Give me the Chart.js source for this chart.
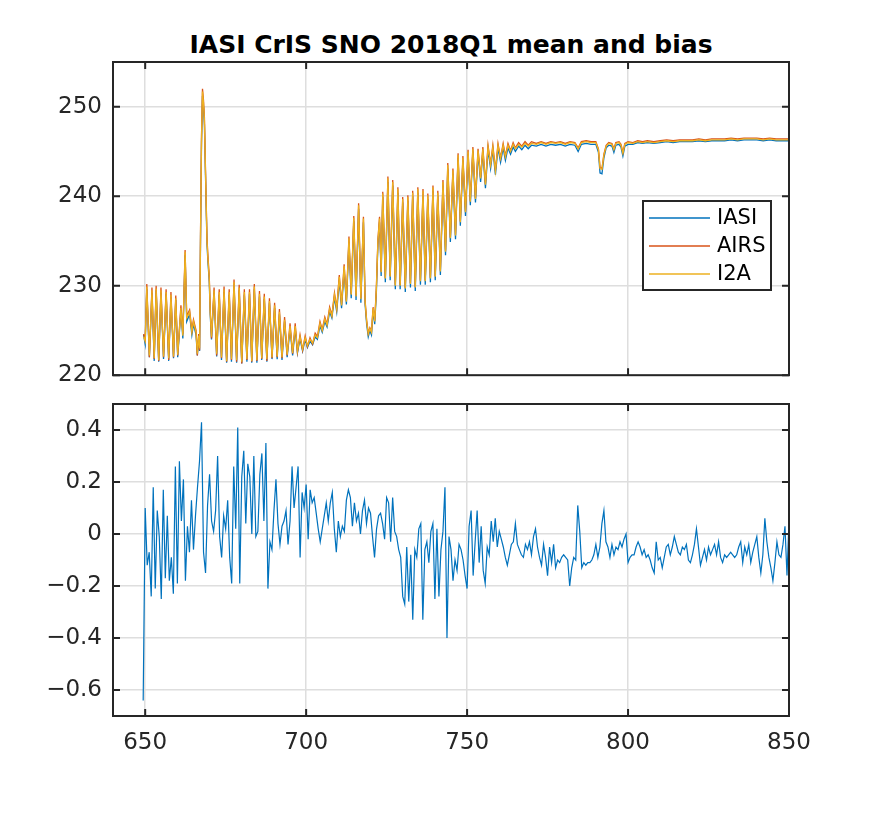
<!DOCTYPE html>
<html>
<head>
<meta charset="utf-8">
<script src="https://cdn.jsdelivr.net/npm/chart.js@4.4.1/dist/chart.umd.min.js"></script>
<style>
  body { margin: 0; background: #fff; }
  #wrap { position: relative; width: 872px; height: 839px; }
  #title {
    position: absolute; left: 113px; width: 676px; top: 30px;
    text-align: center; font: bold 25px "DejaVu Sans"; line-height: 30px; color: #000;
  }
  canvas { position: absolute; left: 0; }
  #meanChart { top: 0; }
  #biasChart { top: 350px; }
</style>
</head>
<body>
<div id="wrap">
  <div id="title">IASI CrIS SNO 2018Q1 mean and bias</div>
  <canvas id="meanChart" width="872" height="400"></canvas>
  <canvas id="biasChart" width="872" height="489"></canvas>
</div>
<script>
// wavenumber (cm-1) of the points
const wn = [
  649.5, 650.0, 650.5, 651.3, 652.1, 652.8, 653.4, 654.2, 654.9, 655.7,
  656.5, 657.3, 658.0, 658.8, 659.5, 660.1, 661.1, 661.7, 662.4, 662.9,
  663.8, 664.5, 665.0, 665.8, 666.2, 666.6, 666.9, 667.2, 667.5, 667.8,
  668.1, 668.4, 668.8, 669.2, 669.5, 669.9, 670.2, 670.6, 671.4, 672.2,
  673.0, 673.7, 674.5, 675.3, 676.1, 676.8, 677.6, 678.4, 679.2, 680.0,
  680.8, 681.6, 682.4, 683.1, 683.9, 684.7, 685.5, 686.2, 687.0, 687.8,
  688.6, 689.4, 690.2, 691.0, 691.7, 692.5, 693.3, 694.1, 695.0, 695.8,
  696.6, 697.3, 698.1, 698.9, 699.7, 700.4, 701.2, 702.0, 702.8, 703.5,
  704.3, 705.0, 705.8, 706.5, 707.3, 708.0, 708.8, 709.5, 710.3, 711.0,
  711.8, 712.5, 713.3, 714.0, 714.8, 715.5, 716.3, 717.0, 717.8, 718.3,
  718.8, 719.3, 719.8, 720.3, 720.8, 721.3, 721.8, 722.3, 722.8, 723.3,
  723.8, 724.6, 725.4, 726.1, 726.9, 727.7, 728.5, 729.2, 730.0, 730.8,
  731.6, 732.4, 733.1, 733.9, 734.7, 735.5, 736.3, 737.0, 737.8, 738.6,
  739.4, 740.1, 740.9, 741.7, 742.5, 743.3, 744.0, 744.8, 745.6, 746.4,
  747.2, 747.9, 748.7, 749.5, 750.3, 751.0, 751.8, 752.6, 753.4, 754.2,
  754.9, 755.7, 756.5, 757.3, 758.0, 758.8, 759.6, 760.4, 761.2, 761.9,
  762.7, 763.5, 764.3, 765.0, 766.0, 767.0, 768.0, 769.0, 770.0, 771.5,
  773.0, 774.5, 776.0, 777.5, 779.0, 780.5, 782.0, 783.5, 784.5, 785.5,
  787.0, 788.5, 790.0, 790.8, 791.3, 791.9, 792.5, 793.2, 794.0, 795.0,
  795.6, 796.2, 797.2, 797.8, 798.4, 799.0, 800.0, 801.5, 803.0, 804.5,
  806.0, 808.0, 810.0, 812.0, 814.0, 816.0, 818.0, 820.0, 822.0, 824.0,
  826.0, 828.0, 830.0, 832.0, 834.0, 836.0, 838.0, 840.0, 842.0, 844.0,
  846.0, 848.0, 850.0
];

// mean brightness temperature (K)
const iasi = [
  224.5, 223.5, 229.6, 222.0, 229.2, 221.6, 229.5, 221.5, 229.2, 221.8,
  229.1, 221.6, 228.7, 221.9, 228.4, 222.0, 227.3, 224.1, 233.4, 226.0,
  226.8, 224.5, 225.7, 224.5, 222.2, 224.1, 222.7, 235.5, 246.0, 251.2,
  250.0, 248.0, 241.2, 234.6, 232.6, 230.5, 226.8, 224.0, 229.2, 222.1,
  229.0, 221.7, 229.3, 221.4, 229.0, 221.5, 230.1, 221.4, 229.5, 221.3,
  229.0, 221.5, 229.1, 221.4, 229.6, 221.4, 228.8, 221.7, 228.5, 221.5,
  228.1, 221.8, 227.5, 221.8, 226.8, 221.7, 226.0, 222.0, 225.2, 222.2,
  225.2, 222.5, 224.1, 222.7, 224.0, 223.1, 223.8, 223.4, 224.3, 224.0,
  225.5, 224.8, 226.0, 225.4, 227.1, 226.4, 228.7, 227.1, 230.6, 227.5,
  231.8, 227.9, 234.9, 228.6, 237.2, 228.4, 238.6, 228.1, 237.1, 228.0,
  225.7, 224.3, 225.0, 224.5, 227.2, 225.7, 229.1, 234.6, 237.1, 231.1,
  239.9, 230.4, 241.6, 230.6, 241.2, 229.6, 240.4, 229.6, 239.3, 229.3,
  239.5, 229.8, 240.0, 229.4, 240.4, 230.1, 240.2, 230.1, 239.7, 230.4,
  240.6, 230.6, 240.0, 231.2, 241.2, 233.4, 243.1, 234.9, 242.5, 235.2,
  244.3, 236.7, 244.0, 237.8, 244.7, 239.0, 245.0, 239.3, 244.8, 241.6,
  245.0, 240.9, 245.2, 243.1, 245.2, 242.4, 245.4, 243.8, 245.4, 244.0,
  245.4, 244.7, 245.5, 245.0, 245.6, 245.2, 245.7, 245.3, 245.7, 245.6,
  245.8, 245.6, 245.8, 245.7, 245.8, 245.6, 245.8, 245.7, 245.0, 245.8,
  245.9, 245.8, 245.8, 244.9, 242.6, 242.5, 244.3, 245.4, 245.7, 245.6,
  244.9, 245.7, 245.8, 245.5, 244.5, 245.6, 245.8, 245.8, 246.0, 245.9,
  246.0, 245.9, 246.0, 246.1, 246.0, 246.1, 246.1, 246.1, 246.2, 246.1,
  246.2, 246.2, 246.2, 246.3, 246.2, 246.3, 246.3, 246.3, 246.2, 246.3,
  246.2, 246.2, 246.2
];

const airs = [
  224.6, 224.0, 230.2, 222.0, 229.8, 221.8, 230.0, 221.6, 229.8, 222.0,
  229.6, 221.7, 229.3, 222.0, 228.9, 222.2, 227.8, 224.6, 234.0, 226.6,
  227.3, 225.0, 226.2, 225.0, 222.2, 224.6, 222.8, 236.3, 246.8, 252.0,
  250.8, 248.8, 241.9, 235.3, 233.3, 231.1, 227.4, 224.1, 229.8, 222.2,
  229.6, 221.9, 229.9, 221.5, 229.6, 221.7, 230.7, 221.5, 230.1, 221.3,
  229.6, 221.7, 229.6, 221.5, 230.2, 221.6, 229.4, 221.8, 229.1, 221.6,
  228.6, 221.9, 228.1, 222.0, 227.4, 221.9, 226.5, 222.2, 225.8, 222.4,
  225.8, 222.6, 224.5, 222.8, 224.4, 223.2, 224.2, 223.5, 224.7, 224.3,
  226.0, 225.1, 226.5, 225.7, 227.6, 226.7, 229.2, 227.5, 231.2, 227.9,
  232.4, 228.3, 235.5, 229.1, 237.8, 228.9, 239.2, 228.6, 237.7, 228.4,
  226.1, 224.7, 225.3, 224.9, 227.6, 226.1, 229.7, 235.2, 237.7, 231.6,
  240.5, 230.9, 242.2, 231.1, 241.8, 230.1, 241.0, 230.1, 239.9, 229.8,
  240.1, 230.3, 240.6, 229.9, 241.0, 230.6, 240.8, 230.6, 240.3, 230.9,
  241.2, 231.1, 240.6, 231.7, 241.8, 233.9, 243.7, 235.4, 243.1, 235.7,
  244.8, 237.2, 244.5, 238.3, 245.2, 239.5, 245.5, 239.8, 245.3, 242.1,
  245.5, 241.4, 245.7, 243.6, 245.7, 242.9, 245.9, 244.3, 245.9, 244.5,
  245.9, 245.1, 246.0, 245.4, 246.0, 245.6, 246.1, 245.7, 246.1, 245.9,
  246.1, 245.9, 246.1, 246.0, 246.1, 245.9, 246.1, 246.0, 245.4, 246.1,
  246.2, 246.1, 246.1, 245.3, 243.2, 243.1, 244.7, 245.7, 246.0, 245.9,
  245.3, 246.0, 246.1, 245.8, 244.9, 245.9, 246.1, 246.0, 246.2, 246.1,
  246.2, 246.1, 246.2, 246.3, 246.2, 246.3, 246.3, 246.3, 246.4, 246.3,
  246.4, 246.4, 246.4, 246.5, 246.4, 246.5, 246.5, 246.5, 246.4, 246.5,
  246.4, 246.4, 246.4
];

const i2a = [
  224.3, 223.8, 229.9, 222.2, 229.5, 221.9, 229.7, 221.7, 229.5, 222.1,
  229.3, 221.9, 229.0, 222.1, 228.6, 222.3, 227.5, 224.4, 233.8, 226.4,
  227.1, 224.8, 226.0, 224.8, 222.4, 224.4, 223.0, 236.0, 246.5, 251.7,
  250.5, 248.5, 241.6, 235.0, 233.0, 230.8, 227.1, 224.3, 229.5, 222.4,
  229.3, 222.0, 229.6, 221.6, 229.3, 221.8, 230.4, 221.7, 229.8, 221.5,
  229.3, 221.8, 229.3, 221.6, 229.9, 221.7, 229.1, 221.9, 228.8, 221.8,
  228.3, 222.0, 227.8, 222.1, 227.1, 222.0, 226.2, 222.3, 225.5, 222.5,
  225.5, 222.7, 224.3, 222.9, 224.2, 223.3, 224.0, 223.6, 224.5, 224.2,
  225.8, 225.0, 226.3, 225.6, 227.4, 226.6, 229.0, 227.4, 231.0, 227.8,
  232.2, 228.2, 235.3, 229.0, 237.6, 228.8, 239.0, 228.5, 237.5, 228.3,
  226.0, 224.6, 225.2, 224.8, 227.5, 226.0, 229.5, 235.0, 237.5, 231.5,
  240.3, 230.8, 242.0, 231.0, 241.6, 230.0, 240.8, 230.0, 239.7, 229.7,
  239.9, 230.2, 240.4, 229.8, 240.8, 230.5, 240.6, 230.5, 240.1, 230.8,
  241.0, 231.0, 240.4, 231.6, 241.6, 233.8, 243.5, 235.3, 242.9, 235.6,
  244.6, 237.1, 244.3, 238.2, 245.0, 239.4, 245.3, 239.7, 245.1, 242.0,
  245.3, 241.3, 245.5, 243.5, 245.5, 242.8, 245.7, 244.2, 245.7, 244.4,
  245.7, 245.0, 245.8, 245.3, 245.8, 245.5, 245.9, 245.6, 245.9, 245.8,
  246.0, 245.8, 246.0, 245.9, 246.0, 245.8, 246.0, 245.9, 245.3, 246.0,
  246.1, 246.0, 246.0, 245.2, 243.1, 243.0, 244.6, 245.6, 245.9, 245.8,
  245.2, 245.9, 246.0, 245.7, 244.8, 245.8, 246.0, 245.9, 246.1, 246.0,
  246.1, 246.0, 246.1, 246.2, 246.1, 246.2, 246.2, 246.2, 246.3, 246.2,
  246.3, 246.3, 246.3, 246.4, 246.3, 246.4, 246.4, 246.4, 246.3, 246.4,
  246.3, 246.3, 246.3
];

// bias (K) on the CrIS channel grid
const biasStart = 649.375;
const biasStep = 0.625;
const bias = [
  -0.64, 0.10, -0.12, -0.07, -0.24, 0.18, -0.21, 0.09, -0.01, -0.25, 0.17, -0.17, 0.07, -0.18, -0.09, -0.23,
  0.26, -0.19, 0.28, 0.05, 0.21, -0.18, 0.03, -0.07, 0.13, -0.06, 0.07, 0.18, 0.28, 0.43, -0.07, -0.15,
  0.11, 0.23, 0.05, 0.01, 0.09, 0.30, -0.01, -0.09, 0.07, 0.02, 0.13, -0.09, -0.19, 0.26, 0.02, 0.41,
  -0.19, 0.22, 0.32, 0.04, 0.27, 0.22, 0.00, 0.30, -0.01, 0.01, 0.23, 0.31, 0.05, 0.35, -0.21, -0.03,
  -0.06, 0.09, 0.21, 0.04, -0.04, 0.03, 0.05, 0.09, -0.04, 0.05, 0.26, 0.10, 0.18, 0.26, -0.09, 0.16,
  0.10, 0.19, -0.02, 0.17, 0.12, 0.14, 0.08, 0.02, -0.03, 0.02, 0.07, 0.12, 0.05, 0.12, 0.16, 0.02,
  -0.07, 0.05, -0.01, 0.03, 0.01, 0.13, 0.17, 0.14, 0.03, 0.12, 0.05, 0.08, 0.00, 0.09, 0.13, 0.04,
  0.10, 0.08, -0.01, -0.09, 0.02, 0.07, 0.08, 0.04, -0.02, 0.14, 0.12, -0.03, 0.14, 0.01, -0.01, -0.06,
  -0.09, -0.24, -0.27, -0.05, -0.26, -0.08, -0.33, -0.06, -0.09, 0.02, 0.04, -0.33, -0.06, -0.03, -0.11, 0.01,
  0.04, -0.25, 0.02, -0.24, -0.06, 0.01, 0.18, -0.40, -0.01, -0.06, -0.18, -0.10, -0.14, -0.04, -0.06, -0.10,
  -0.16, -0.21, 0.03, 0.09, -0.16, -0.03, 0.09, -0.11, 0.03, -0.14, -0.19, -0.05, -0.08, 0.05, -0.03, 0.06,
  -0.05, 0.01, -0.02, -0.05, -0.09, -0.12, -0.08, -0.04, -0.03, 0.04, -0.04, -0.06, -0.08, -0.09, -0.04, -0.06,
  -0.03, -0.08, -0.01, 0.02, -0.05, -0.09, -0.12, -0.04, -0.09, -0.16, -0.05, -0.11, -0.04, -0.13, -0.10, -0.11,
  -0.09, -0.08, -0.09, -0.10, -0.20, -0.13, -0.09, -0.10, 0.11, 0.01, -0.13, -0.11, -0.12, -0.11, -0.11, -0.10,
  -0.08, -0.04, -0.09, -0.05, 0.04, 0.09, -0.03, -0.05, -0.09, -0.04, -0.08, -0.05, -0.06, -0.03, -0.05, -0.02,
  0.00, -0.11, -0.09, -0.08, -0.08, -0.05, -0.03, -0.05, -0.08, -0.06, -0.09, -0.08, -0.10, -0.13, -0.15, -0.03,
  -0.10, -0.09, -0.13, -0.09, -0.05, -0.04, -0.08, -0.05, -0.01, -0.04, -0.07, -0.08, -0.05, -0.06, -0.04, -0.10,
  -0.11, -0.08, -0.04, 0.02, -0.05, -0.12, -0.09, -0.06, -0.10, -0.05, -0.08, -0.06, -0.04, -0.08, -0.03, -0.09,
  -0.11, -0.08, -0.09, -0.08, -0.07, -0.08, -0.09, -0.08, -0.05, -0.03, -0.11, -0.05, -0.08, -0.04, -0.11, -0.07,
  -0.04, -0.01, -0.09, -0.15, -0.08, 0.06, -0.03, -0.09, -0.13, -0.18, -0.11, -0.03, -0.08, -0.09, -0.04, 0.03,
  -0.16, 0.05
];

const xTicks = [650, 700, 750, 800, 850];
const meanTicks = [220, 230, 240, 250];
const biasTicks = [-0.6, -0.4, -0.2, 0, 0.2, 0.4];

const seriesLabels = ['IASI', 'AIRS', 'I2A'];
const seriesColors = ['#0072BD', '#D95319', '#EDB120'];

Chart.defaults.font.family = '"DejaVu Sans"';
Chart.defaults.font.size = 23;
Chart.defaults.color = '#262626';

const gridColor = '#dedede';
const axisColor = '#262626';

// MATLAB style box with inward ticks
const boxPlugin = {
  id: 'box',
  afterDraw(chart) {
    const { ctx, chartArea: a, scales } = chart;
    ctx.save();
    ctx.strokeStyle = axisColor;
    ctx.lineWidth = 2;
    ctx.strokeRect(a.left, a.top, a.right - a.left, a.bottom - a.top);
    ctx.beginPath();
    scales.x.ticks.forEach(t => {
      const px = scales.x.getPixelForValue(t.value);
      ctx.moveTo(px, a.bottom); ctx.lineTo(px, a.bottom - 7);
      ctx.moveTo(px, a.top); ctx.lineTo(px, a.top + 7);
    });
    scales.y.ticks.forEach(t => {
      const py = scales.y.getPixelForValue(t.value);
      ctx.moveTo(a.left, py); ctx.lineTo(a.left + 7, py);
      ctx.moveTo(a.right, py); ctx.lineTo(a.right - 7, py);
    });
    ctx.stroke();
    ctx.restore();
  }
};

// boxed legend inside the upper axes
const legendPlugin = {
  id: 'boxLegend',
  afterDraw(chart) {
    const { ctx, chartArea: a } = chart;
    const right = a.right - 18, top = a.top + 139;
    const w = 128, h = 89;
    const left = right - w;
    ctx.save();
    ctx.fillStyle = '#fff';
    ctx.fillRect(left, top, w, h);
    ctx.strokeStyle = axisColor;
    ctx.lineWidth = 2;
    ctx.strokeRect(left, top, w, h);
    ctx.font = '21px "DejaVu Sans"';
    ctx.textBaseline = 'middle';
    ctx.textAlign = 'left';
    seriesLabels.forEach((lab, i) => {
      const y = top + 17 + i * 28;
      ctx.strokeStyle = seriesColors[i];
      ctx.lineWidth = 1.3;
      ctx.beginPath();
      ctx.moveTo(left + 6, y);
      ctx.lineTo(left + 67, y);
      ctx.stroke();
      ctx.fillStyle = '#000';
      ctx.fillText(lab, left + 74, y + 1);
    });
    ctx.restore();
  }
};

function setTicks(values) {
  return scale => { scale.ticks = values.map(v => ({ value: v })); };
}

function xScale(showLabels, height) {
  return {
    type: 'linear', min: 640, max: 850,
    afterBuildTicks: setTicks(xTicks),
    afterFit: s => { s.height = height; },
    grid: { color: gridColor, lineWidth: 1.5, drawTicks: false },
    border: { display: false },
    ticks: { display: showLabels, padding: 13, maxRotation: 0, color: axisColor }
  };
}

function yScale(min, max, values, fmt) {
  return {
    min: min, max: max,
    afterBuildTicks: setTicks(values),
    afterFit: s => { s.width = 113; },
    grid: { color: gridColor, lineWidth: 1.5, drawTicks: false },
    border: { display: false },
    ticks: { padding: 11, color: axisColor, callback: fmt }
  };
}

const meanSeries = [iasi, airs, i2a];
new Chart(document.getElementById('meanChart'), {
  type: 'line',
  data: {
    datasets: meanSeries.map((vals, k) => ({
      label: seriesLabels[k],
      data: wn.map((x, i) => ({ x: x, y: vals[i] })),
      borderColor: seriesColors[k],
      borderWidth: 1.3,
      pointRadius: 0,
      tension: 0,
      order: 3 - k
    }))
  },
  options: {
    responsive: false,
    animation: false,
    events: [],
    layout: { padding: { left: 0, right: 83, top: 62, bottom: 0 } },
    plugins: { legend: { display: false }, tooltip: { enabled: false } },
    scales: {
      x: xScale(false, 23),
      y: yScale(220, 255, meanTicks, v => String(v))
    }
  },
  plugins: [boxPlugin, legendPlugin]
});

new Chart(document.getElementById('biasChart'), {
  type: 'line',
  data: {
    datasets: [{
      label: 'bias',
      data: bias.map((v, i) => ({ x: biasStart + i * biasStep, y: v })),
      borderColor: seriesColors[0],
      borderWidth: 1.2,
      pointRadius: 0,
      tension: 0
    }]
  },
  options: {
    responsive: false,
    animation: false,
    events: [],
    layout: { padding: { left: 0, right: 83, top: 54, bottom: 0 } },
    plugins: { legend: { display: false }, tooltip: { enabled: false } },
    scales: {
      x: xScale(true, 123),
      y: yScale(-0.7, 0.5, biasTicks, v => v === 0 ? '0' : (v < 0 ? '\u2212' : '') + Math.abs(v).toFixed(1))
    }
  },
  plugins: [boxPlugin]
});
</script>
</body>
</html>
